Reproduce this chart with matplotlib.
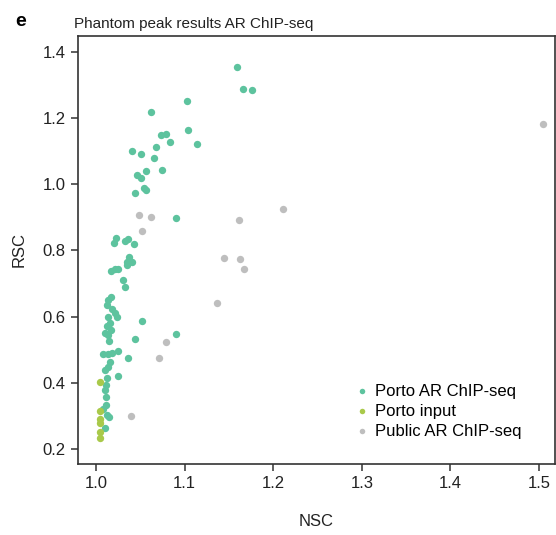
import matplotlib
matplotlib.use("Agg")
import matplotlib.pyplot as plt

plt.rcParams["font.family"] = ["Liberation Sans", "DejaVu Sans"]

# Porto AR ChIP-seq (NSC, RSC)
porto_chip_nsc = [
    1.159, 1.166, 1.176, 1.103, 1.104, 1.114, 1.062, 1.073, 1.079, 1.084,
    1.041, 1.051, 1.068, 1.066, 1.046, 1.051, 1.057, 1.075, 1.054, 1.056,
    1.044, 1.090, 1.052, 1.090, 1.023, 1.020, 1.033, 1.036, 1.043, 1.037,
    1.035, 1.041, 1.035, 1.017, 1.021, 1.025, 1.030, 1.033, 1.017, 1.014,
    1.012, 1.018, 1.021, 1.024, 1.014, 1.016, 1.012, 1.017, 1.010, 1.044,
    1.014, 1.015, 1.008, 1.013, 1.018, 1.025, 1.036, 1.016, 1.013, 1.010,
    1.025, 1.012, 1.011, 1.010, 1.011, 1.011, 1.008, 1.012, 1.010, 1.015,
]
porto_chip_rsc = [
    1.353, 1.289, 1.286, 1.252, 1.164, 1.123, 1.217, 1.148, 1.152, 1.127,
    1.100, 1.091, 1.113, 1.080, 1.029, 1.020, 1.040, 1.042, 0.990, 0.983,
    0.973, 0.898, 0.588, 0.547, 0.839, 0.824, 0.828, 0.834, 0.819, 0.779,
    0.766, 0.766, 0.756, 0.739, 0.744, 0.745, 0.710, 0.690, 0.660, 0.650,
    0.635, 0.622, 0.610, 0.600, 0.600, 0.580, 0.572, 0.560, 0.551, 0.534,
    0.545, 0.527, 0.486, 0.486, 0.489, 0.497, 0.476, 0.464, 0.449, 0.439,
    0.421, 0.414, 0.393, 0.380, 0.358, 0.333, 0.320, 0.303, 0.264, 0.296,
]

# Porto input
porto_input_nsc = [1.005, 1.005, 1.005, 1.004, 1.005, 1.005]
porto_input_rsc = [0.403, 0.316, 0.290, 0.278, 0.252, 0.235]

# Public AR ChIP-seq
public_nsc = [1.505, 1.211, 1.161, 1.145, 1.163, 1.167, 1.137, 1.049, 1.062,
              1.052, 1.079, 1.071, 1.040]
public_rsc = [1.182, 0.924, 0.891, 0.776, 0.774, 0.744, 0.642, 0.907, 0.902,
              0.859, 0.523, 0.474, 0.301]

GREEN = "#5DC39E"
LIME = "#A9C94A"
GREY = "#BEBEBE"

fig = plt.figure(figsize=(5.56, 5.35), dpi=100)
ax = fig.add_axes([78 / 556, 1 - 464 / 535, 477 / 556, 428 / 535])

kw = dict(s=28, linewidths=0, zorder=3)
ax.scatter(porto_chip_nsc, porto_chip_rsc, color=GREEN, label="Porto AR ChIP-seq", **kw)
ax.scatter(porto_input_nsc, porto_input_rsc, color=LIME, label="Porto input", **kw)
ax.scatter(public_nsc, public_rsc, color=GREY, label="Public AR ChIP-seq", **kw)

ax.set_xlim(0.9797, 1.518)
ax.set_ylim(0.155, 1.448)
ax.set_xticks([1.0, 1.1, 1.2, 1.3, 1.4, 1.5])
ax.set_yticks([0.2, 0.4, 0.6, 0.8, 1.0, 1.2, 1.4])
ax.tick_params(direction="out", length=5, width=1.1, labelsize=12, pad=4,
               color="#333333", labelcolor="#222222")
for sp in ax.spines.values():
    sp.set_linewidth(1.2)
    sp.set_color("#333333")

ax.set_xlabel("NSC", fontsize=12, labelpad=16, color="#222222")
ax.set_ylabel("RSC", fontsize=12, labelpad=11, color="#222222")
ax.set_title("Phantom peak results AR ChIP-seq", fontsize=11, loc="left",
             pad=6, x=-0.008, color="#222222")
fig.text(15 / 556, 1 - 21 / 535, "e", fontsize=14, fontweight="bold", va="center")

ax.legend(loc="upper left", bbox_to_anchor=(0.567, 0.207), frameon=False,
          fontsize=12, handlelength=0.6, handletextpad=0.5, labelspacing=0.3,
          markerscale=0.75, borderpad=0)

fig.savefig("out.png", dpi=100)
